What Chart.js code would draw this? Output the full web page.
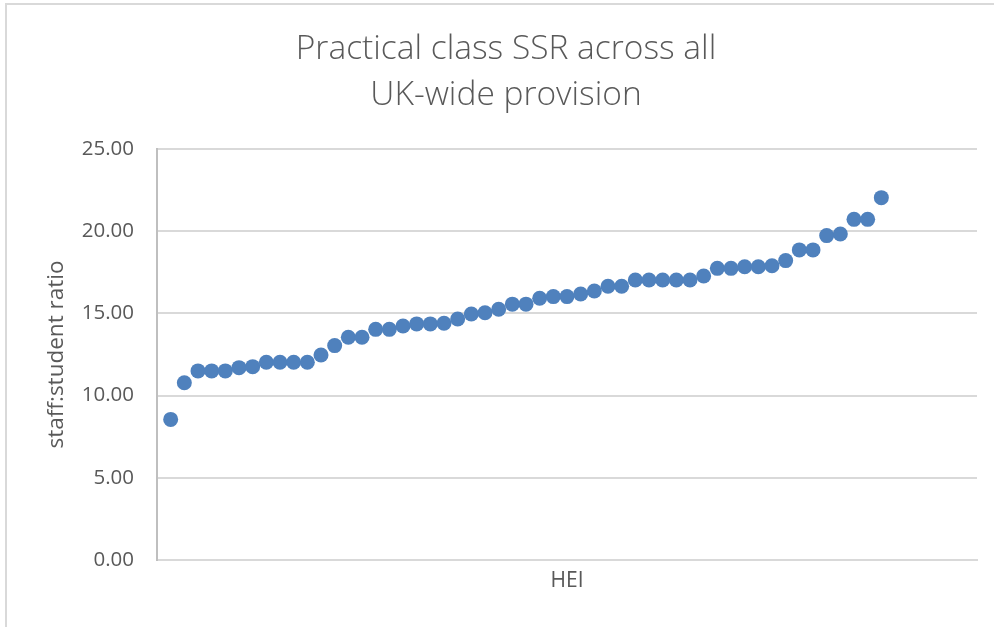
<!DOCTYPE html>
<html>
<head>
<meta charset="utf-8">
<script src="https://cdn.jsdelivr.net/npm/chart.js@4"></script>
<style>
  body { margin: 0; background: #fff; overflow: hidden; }
  #wrap { position: relative; width: 994px; height: 627px; }
  #frame { position: absolute; left: 5px; top: 3px; width: 2000px; height: 2000px; border: 2px solid #d9d9d9; }
  canvas { position: absolute; left: 0; top: 0; }
</style>
</head>
<body>
<div id="wrap">
  <div id="frame"></div>
  <canvas id="ssrChart" width="994" height="627"></canvas>
</div>
<script>
// HEI index (sorted by SSR) and practical class staff:student ratio
const hei = [1, 2, 3, 4, 5, 6, 7, 8, 9, 10, 11, 12, 13, 14, 15, 16, 17, 18, 19, 20,
  21, 22, 23, 24, 25, 26, 27, 28, 29, 30, 31, 32, 33, 34, 35, 36, 37, 38, 39, 40,
  41, 42, 43, 44, 45, 46, 47, 48, 49, 50, 51, 52, 53];
const ssr = [8.55, 10.78, 11.50, 11.50, 11.50, 11.70, 11.76, 12.03, 12.03, 12.03,
  12.03, 12.47, 13.04, 13.55, 13.55, 14.03, 14.03, 14.23, 14.36, 14.36,
  14.40, 14.66, 14.96, 15.04, 15.25, 15.56, 15.56, 15.92, 16.02, 16.02,
  16.18, 16.36, 16.65, 16.65, 17.03, 17.03, 17.03, 17.03, 17.03, 17.27,
  17.74, 17.74, 17.84, 17.84, 17.90, 18.21, 18.86, 18.86, 19.73, 19.83,
  20.72, 20.72, 22.04];
const yTicks = [0, 5, 10, 15, 20, 25];

const grey = "#595959";
const font = "'Open Sans', sans-serif";

const ctx = document.getElementById("ssrChart").getContext("2d");
new Chart(ctx, {
  type: "scatter",
  data: {
    datasets: [{
      data: hei.map((h, i) => ({ x: h, y: ssr[i] })),
      backgroundColor: "#4F81BD",
      borderWidth: 0,
      pointRadius: 7.5,
      pointHoverRadius: 7.5
    }]
  },
  options: {
    responsive: false,
    animation: false,
    // left padding shifts the title centre to match the original
    layout: { padding: { left: 35, right: 17, top: 0, bottom: 0 } },
    plugins: {
      legend: { display: false },
      tooltip: { enabled: false },
      title: {
        display: true,
        text: ["Practical class SSR across all", "UK-wide provision"],
        color: grey,
        font: { family: font, size: 33.5, weight: "300", lineHeight: 1.38 },
        padding: { top: 26, bottom: 30.5 }
      }
    },
    scales: {
      x: {
        type: "linear",
        min: 0,
        max: 60,
        grid: { display: false },
        border: { color: "#d9d9d9", width: 2 },
        ticks: { display: false },
        title: {
          display: true,
          text: "HEI",
          color: grey,
          font: { family: font, size: 21 },
          padding: { top: 0, bottom: 33 }
        },
        afterFit: (s) => { s.height = 67; }
      },
      y: {
        min: 0,
        max: 25,
        afterBuildTicks: (s) => { s.ticks = yTicks.map(v => ({ value: v })); },
        grid: { color: "#d9d9d9", lineWidth: 2, drawTicks: false },
        border: { color: "#bfbfbf", width: 2 },
        ticks: {
          color: grey,
          font: { family: font, size: 20.5 },
          padding: 23,
          callback: (v) => v.toFixed(2)
        },
        title: {
          display: true,
          text: "staff:student ratio",
          color: grey,
          font: { family: font, size: 22.5 },
          padding: { top: 8, bottom: 0 }
        },
        afterFit: (s) => { s.width = 122; }
      }
    }
  }
});
</script>
</body>
</html>
